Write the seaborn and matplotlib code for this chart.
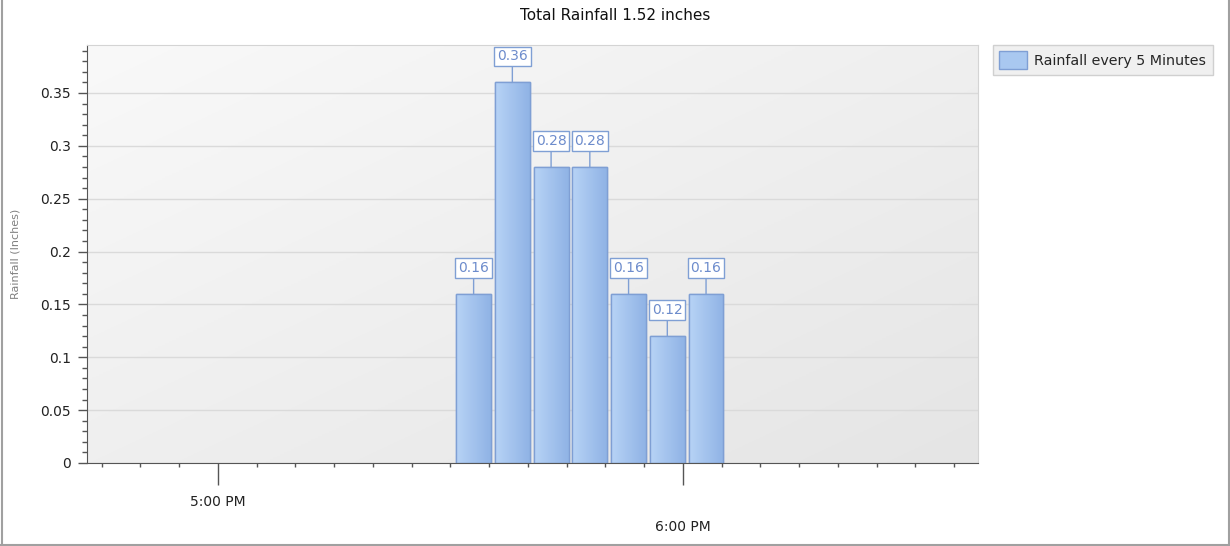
import matplotlib
matplotlib.use("Agg")
import matplotlib.pyplot as plt
import matplotlib.transforms as mtransforms
from matplotlib.lines import Line2D
from matplotlib.patches import Patch, Rectangle
from matplotlib.ticker import MultipleLocator, FixedLocator, FuncFormatter
import numpy as np
import pandas as pd
import seaborn as sns

TITLE = "Total Rainfall 1.52 inches"
SERIES_NAME = "Rainfall every 5 Minutes"
Y_LABEL = "Rainfall (Inches)"

# end of each 5 minute interval and the rain that fell in it
interval_end = ["5:35 PM", "5:40 PM", "5:45 PM", "5:50 PM", "5:55 PM", "6:00 PM", "6:05 PM"]
rain = [0.16, 0.36, 0.28, 0.28, 0.16, 0.12, 0.16]
hour_labels = ["5:00 PM", "6:00 PM"]

BAR_COLOR = "#a9c8f0"
BAR_EDGE = "#7f9fd4"
LABEL_COLOR = "#6d8ccc"

# minutes after 5:00 PM
t = pd.to_datetime(interval_end, format="%I:%M %p")
minutes = (t.hour - 17) * 60 + t.minute
df = pd.DataFrame({"minute": minutes - 2, "rain": rain})

sns.set_style("white")
plt.rcParams["font.family"] = ["DejaVu Sans"]

fig = plt.figure(figsize=(12.3, 5.46), dpi=100)
ax = fig.add_axes([87 / 1230, 83 / 546, 891 / 1230, 418 / 546])

sns.barplot(data=df, x="minute", y="rain", native_scale=True, width=0.9,
            color=BAR_COLOR, saturation=1, edgecolor=BAR_EDGE, linewidth=1,
            ax=ax, zorder=2)

# plot area background: light top-left, darker bottom-right
g = np.linspace(1, 0, 256)
bg = np.add.outer(g, g) / 2
ax.imshow(bg, extent=[0, 1, 0, 1], transform=ax.transAxes,
          cmap=sns.blend_palette(["#e5e5e5", "#f9f9f9"], as_cmap=True),
          aspect="auto", zorder=-2, interpolation="bilinear")

# bar gradient (lighter on the left)
bar_cmap = sns.blend_palette(["#b7d3f6", "#90b3e5"], as_cmap=True)
for p in list(ax.patches):
    x0, y0 = p.get_x(), p.get_y()
    w, h = p.get_width(), p.get_height()
    im = ax.imshow(np.linspace(0, 1, 64)[None, :], extent=[x0, x0 + w, y0, y0 + h],
                   cmap=bar_cmap, aspect="auto", zorder=2.1, interpolation="bilinear")
    im.set_clip_path(p)
    ax.add_patch(Rectangle((x0, y0), w, h, fill=False, edgecolor=BAR_EDGE, lw=1, zorder=2.2))

for m, v in zip(df["minute"], df["rain"]):
    ax.annotate(f"{v:g}", xy=(m, v), xytext=(0, 26), textcoords="offset pixels",
                ha="center", va="center", fontsize=10, color=LABEL_COLOR,
                bbox=dict(boxstyle="square,pad=0.2", fc="white", ec=BAR_EDGE, lw=1),
                arrowprops=dict(arrowstyle="-", color=BAR_EDGE, lw=1, shrinkA=0, shrinkB=0),
                zorder=3)

ax.set_xlim(-16.9, 98.1)
ax.set_ylim(0, 0.3954)

ax.yaxis.set_major_locator(MultipleLocator(0.05))
ax.yaxis.set_minor_locator(MultipleLocator(0.01))
ax.yaxis.set_major_formatter(FuncFormatter(lambda v, _: f"{v:.2f}".rstrip("0").rstrip(".")))
ax.xaxis.set_major_locator(FixedLocator([0, 60]))
ax.xaxis.set_minor_locator(FixedLocator(np.arange(-15, 98, 5)))
ax.set_xticklabels(hour_labels)

ax.tick_params(axis="y", which="major", direction="out", length=6.5, width=1, color="#555555",
               labelsize=10, labelcolor="#222222", pad=5, left=True)
ax.tick_params(axis="y", which="minor", direction="out", length=3.5, width=1, color="#555555", left=True)
ax.tick_params(axis="x", which="major", direction="out", length=16, width=1, color="#555555",
               labelsize=10, labelcolor="#222222", pad=7, bottom=True)
ax.tick_params(axis="x", which="minor", direction="out", length=3, width=1, color="#555555", bottom=True)

# stagger the second hour label
lbl = ax.get_xticklabels()[1]
lbl.set_transform(lbl.get_transform() + mtransforms.ScaledTranslation(0, -0.25, fig.dpi_scale_trans))

ax.grid(axis="y", which="major", color="#dadada", lw=1, zorder=0)
ax.set_axisbelow(True)
for side in ["left", "bottom"]:
    ax.spines[side].set_color("#555555")
for side in ["top", "right"]:
    ax.spines[side].set_visible(True)
    ax.spines[side].set_color("#d4d4d4")

ax.set_xlabel("")
ax.set_ylabel(Y_LABEL, fontsize=8, color="#808080")
ax.yaxis.set_label_coords(-0.075, 0.5)

fig.suptitle(TITLE, y=1 - 16 / 546, va="center", fontsize=11, color="#111111")

handle = Patch(facecolor=BAR_COLOR, edgecolor=BAR_EDGE, lw=1)
leg = fig.legend([handle], [SERIES_NAME], loc="upper left",
                 bbox_to_anchor=(993 / 1230, 1 - 45 / 546), fontsize=10.3,
                 frameon=True, fancybox=False, framealpha=1, borderaxespad=0,
                 handlelength=1.9, handleheight=1.5, borderpad=0.45, handletextpad=0.55)
leg.get_frame().set_facecolor("#f0f0f0")
leg.get_frame().set_edgecolor("#d0d0d0")

# outer border of the chart control
for xs, ys in [([1.5 / 1230] * 2, [0, 1]), ([1228.5 / 1230] * 2, [0, 1]), ([0, 1], [1.5 / 546] * 2)]:
    fig.add_artist(Line2D(xs, ys, transform=fig.transFigure, color="#a0a0a0", lw=1.5))

fig.savefig("out.png", dpi=100)
